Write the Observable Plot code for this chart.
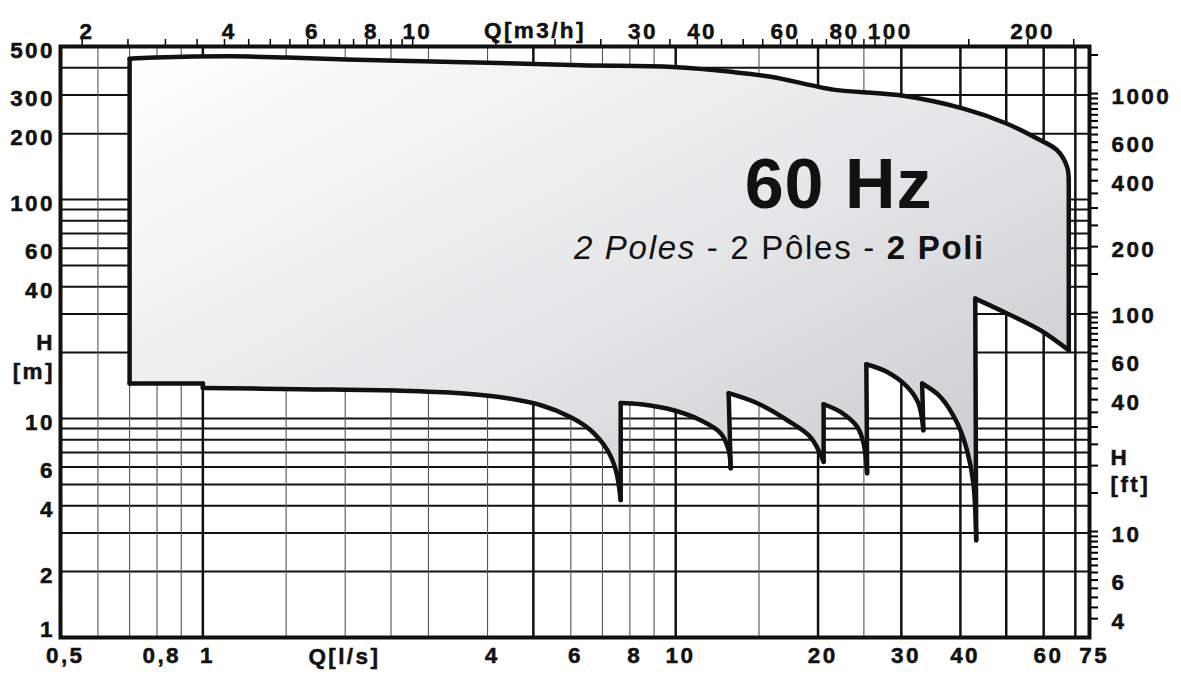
<!DOCTYPE html>
<html>
<head>
<meta charset="utf-8">
<script src="https://cdn.jsdelivr.net/npm/d3@7"></script>
<script src="https://cdn.jsdelivr.net/npm/@observablehq/plot@0.6"></script>
<style>
html, body { margin: 0; padding: 0; background: #fff; }
#chart svg { display: block; }
</style>
</head>
<body>
<div id="chart"></div>
<script>
// ---------- data (Q in l/s, H in m) ----------
const M3H_PER_LS = 3.6;
const FT_PER_M = 3.28084;

// upper envelope of the field, left to right
const topQ = [0.7, 0.79, 1.15, 1.51, 2.01, 2.91, 4.23, 6.3, 9.85, 13.26, 16.0, 19.28, 21.96, 29.6, 40.6, 50.2, 58.1, 64.05, 67.25, 67.8];
const topH = [440, 445, 451, 445, 436, 428, 420.5, 410, 403, 382, 363, 333, 316, 300, 260, 222, 190, 168, 141, 122.5];

// lower envelope (pump curves with their cusps), right to left
const lowQ = [67.8, 59.05, 50.2, 43.0, 43.2, 42.6, 41.3, 39.4, 36.3, 33.2, 33.4, 32.6, 30.9, 28.0, 25.3, 25.4, 24.96, 24.2, 22.3, 20.55, 20.55, 19.28, 17.22, 14.88, 12.94, 13.07, 12.94, 12.45, 11.29, 9.90, 8.44, 7.65, 7.65, 7.47, 7.17, 6.61, 6.00, 5.19, 4.27, 3.51, 2.62, 1.61, 1.0, 1.0, 0.7];
const lowH = [20.5, 25.3, 30.2, 35.3, 2.78, 5.07, 7.17, 9.52, 12.55, 14.45, 8.84, 11.74, 13.94, 16.32, 17.7, 5.63, 7.71, 9.16, 10.72, 11.62, 6.34, 8.22, 9.82, 11.74, 13.05, 5.93, 7.17, 8.57, 9.82, 10.91, 11.62, 11.78, 4.24, 5.81, 7.17, 8.84, 10.14, 11.5, 12.51, 13.05, 13.4, 13.61, 13.8, 14.45, 14.45];

// indices (in the joined outline) where the outline has a sharp corner
const cornerIdx = [0, 19, 20, 23, 24, 29, 30, 34, 35, 39, 40, 44, 45, 51, 52, 62, 63, 64];

// grid
const xGridThin = [0.6, 0.7, 0.8, 0.9, 1.5, 2, 2.5, 3, 4, 6, 7, 8, 9, 15, 25];
const xGridThick = [1, 5, 10, 20, 30, 40, 50, 60, 70];
const yGrid = [2, 3, 4, 5, 6, 7, 8, 9, 10, 20, 30, 40, 50, 60, 70, 80, 90, 100, 200, 300, 400];

// tick labels
const bottomLabels = [0.5, 0.8, 1, 4, 6, 8, 10, 20, 30, 40, 60, 75];       // l/s
const topLabels = [2, 4, 6, 8, 10, 30, 40, 60, 80, 100, 200];               // m3/h
const leftLabels = [500, 300, 200, 100, 60, 40, 10, 6, 4, 2];               // m
const rightLabels = [1000, 600, 400, 200, 100, 60, 40, 10, 6, 4];           // ft

// minor ticks
const topTicks = [2, 2.5, 3, 3.5, 4, 4.5, 5, 5.5, 6, 6.5, 7, 7.5, 8, 8.5, 9, 9.5, 10, 15, 20, 25, 30, 35, 40, 45, 50, 55, 60, 65, 70, 75, 80, 85, 90, 95, 100, 150, 200, 250];
const rightTicks = [4, 4.5, 5, 5.5, 6, 6.5, 7, 7.5, 8, 8.5, 9, 9.5, 10, 15, 20, 25, 30, 35, 40, 45, 50, 55, 60, 65, 70, 75, 80, 85, 90, 95, 100, 150, 200, 250, 300, 350, 400, 450, 500, 550, 600, 650, 700, 750, 800, 850, 900, 950, 1000, 1500];

// annotation anchors (data units)
const hzAnchor = {Q: 22.1, H: 91.3};
const subAnchor = {Q: 45.2, H: 53.4};
const qlsTitle = {Q: 1.98};
const qm3hTitle = {Q: 5.01};
const hmTitle = [{t: "H", H: 22.2}, {t: "[m]", H: 16.4}];
const hftTitle = [{t: "H", H: 6.59}, {t: "[ft]", H: 4.96}];

// ---------- build ----------
const outline = topQ.map((q, i) => ({Q: q, H: topH[i]}))
  .concat(lowQ.map((q, i) => ({Q: q, H: lowH[i]})));

// stroke pieces between corners (smooth inside each piece)
const pieces = [];
cornerIdx.forEach((start, k) => {
  const end = k + 1 < cornerIdx.length ? cornerIdx[k + 1] : outline.length;
  for (let i = start; i <= end; i++) {
    const p = outline[i % outline.length];
    pieces.push({Q: p.Q, H: p.H, seg: k});
  }
});

const FONT = "'Liberation Sans', Arial, Helvetica, sans-serif";
const LS = 2.4; // tracking of the small labels
const LBL = {fontFamily: FONT, fontWeight: "bold", fontSize: 22.5, fill: "#111", stroke: "#111", strokeWidth: 0.5};
const fmt = d => String(d).replace(".", ",");

function gradientDefs() {
  const defs = d3.create("svg:defs");
  const g = defs.append("linearGradient").attr("id", "fieldGrad")
    .attr("x1", "0").attr("y1", "0").attr("x2", "1").attr("y2", "1");
  g.append("stop").attr("offset", "0").attr("stop-color", "#ffffff");
  g.append("stop").attr("offset", "0.5").attr("stop-color", "#e5e6e7");
  g.append("stop").attr("offset", "1").attr("stop-color", "#c2c5c8");
  return defs.node();
}

function bigTexts(index, {x, y}) {
  const g = d3.create("svg:g").attr("font-family", FONT).attr("fill", "#111");
  g.append("text")
    .attr("x", x(hzAnchor.Q) + 0.5).attr("y", y(hzAnchor.H))
    .attr("text-anchor", "middle").attr("font-size", 70).attr("font-weight", "bold")
    .style("letter-spacing", "1px")
    .text("60 Hz");
  const t = g.append("text")
    .attr("x", x(subAnchor.Q)).attr("y", y(subAnchor.H))
    .attr("text-anchor", "end").attr("font-size", 33)
    .style("letter-spacing", "1.7px");
  t.append("tspan").attr("font-style", "italic").text("2 Poles");
  t.append("tspan").text(" - 2 Pôles - ");
  t.append("tspan").attr("font-weight", "bold").text("2 Poli");
  return g.node();
}

const plot = Plot.plot({
  width: 1181,
  height: 679,
  marginLeft: 60,
  marginRight: 92,
  marginTop: 46,
  marginBottom: 42,
  style: {background: "#fff", overflow: "visible"},
  x: {type: "log", domain: [0.5, 75], axis: null},
  y: {type: "log", domain: [1, 500], axis: null},
  marks: [
    gradientDefs,
    // tick labels
    Plot.text(bottomLabels, {...LBL, x: d => d, text: fmt, frameAnchor: "bottom", dy: 25, dx: 3.5 + LS / 2}),
    Plot.text(topLabels, {...LBL, x: d => d / M3H_PER_LS, text: d => String(d), frameAnchor: "top", dy: -23, dx: 3.5 + LS / 2}),
    Plot.text(leftLabels, {...LBL, y: d => d, text: d => String(d), frameAnchor: "left", textAnchor: "end", dx: -8 + LS, dy: 4}),
    Plot.text([1], {...LBL, y: d => d, text: d => String(d), frameAnchor: "left", textAnchor: "end", dx: -8 + LS, dy: -8}),
    Plot.text(rightLabels, {...LBL, y: d => d / FT_PER_M, text: d => String(d), frameAnchor: "right", textAnchor: "start", dx: 22, dy: 3}),
    // axis titles
    Plot.text([qlsTitle], {...LBL, x: "Q", text: () => "Q[l/s]", frameAnchor: "bottom", dy: 26, dx: LS / 2}),
    Plot.text([qm3hTitle], {...LBL, x: "Q", text: () => "Q[m3/h]", frameAnchor: "top", dy: -24, dx: LS / 2}),
    Plot.text(hmTitle, {...LBL, y: "H", text: "t", frameAnchor: "left", textAnchor: "end", dx: -8 + LS}),
    Plot.text(hftTitle, {...LBL, y: "H", text: "t", frameAnchor: "right", textAnchor: "start", dx: 21}),
    // grid
    Plot.ruleY(yGrid, {stroke: "#111", strokeWidth: 2}),
    Plot.ruleX(xGridThin, {stroke: "#555", strokeWidth: 1.1}),
    Plot.ruleX(xGridThick, {stroke: "#111", strokeWidth: 2.5}),
    // field: fill, then smooth outline
    Plot.line(outline, {x: "Q", y: "H", fill: "url(#fieldGrad)", stroke: "none"}),
    Plot.line(pieces, {x: "Q", y: "H", z: "seg", curve: "catmull-rom", stroke: "#111", strokeWidth: 4.5, strokeLinecap: "round", strokeLinejoin: "round"}),
    // ticks
    Plot.axisX({anchor: "top", ticks: topTicks.map(d => d / M3H_PER_LS), tickSize: 8, tickFormat: () => "", strokeWidth: 1.5, label: null}),
    Plot.axisY({anchor: "right", ticks: rightTicks.map(d => d / FT_PER_M), tickSize: 8, tickFormat: () => "", strokeWidth: 2, label: null}),
    Plot.frame({stroke: "#111", strokeWidth: 4}),
    // annotations
    bigTexts
  ]
});

// tracking for the small labels
plot.querySelectorAll('g[aria-label="text"]').forEach(g => {
  g.style.letterSpacing = LS + "px";
});

document.getElementById("chart").append(plot);
</script>
</body>
</html>
